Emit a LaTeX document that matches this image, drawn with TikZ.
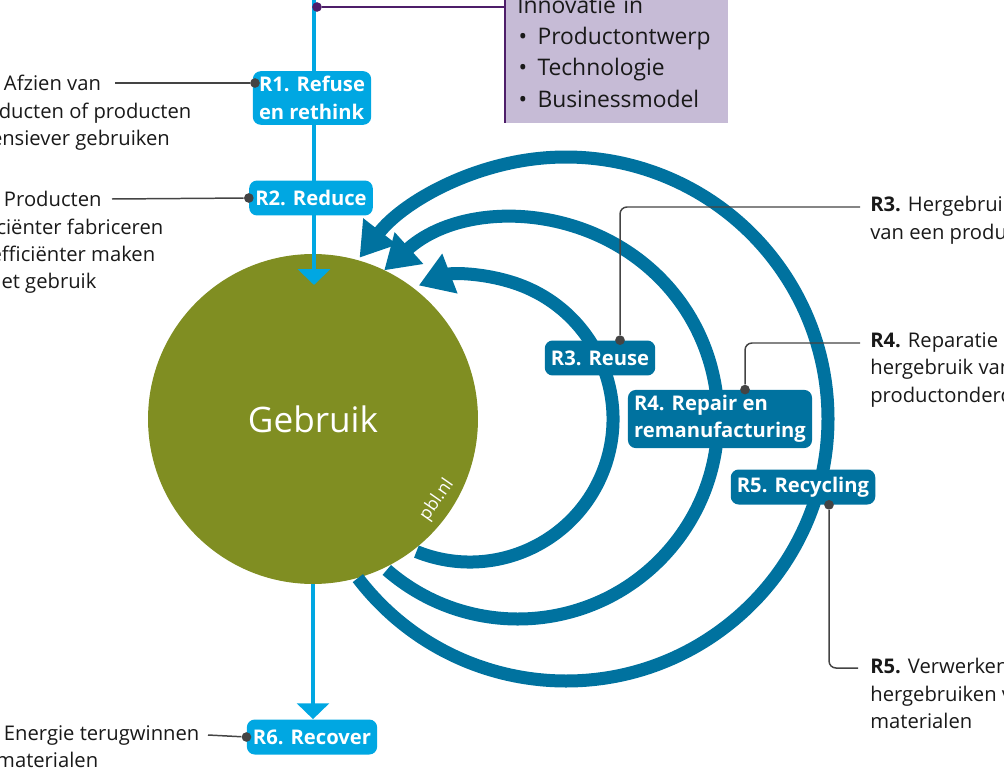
\documentclass[tikz,border=0pt]{standalone}
\usepackage{fontspec}
\setmainfont{Open Sans}
\usetikzlibrary{arrows.meta,positioning,calc}
\definecolor{pblcyan}{RGB}{0,167,226}
\definecolor{pblblue}{RGB}{0,114,159}
\definecolor{pblgreen}{RGB}{128,142,34}
\definecolor{pbllila}{RGB}{198,187,214}
\definecolor{pblpurple}{RGB}{78,30,105}
\definecolor{pbltext}{RGB}{25,25,25}
\definecolor{pblgrey}{RGB}{68,68,68}
\newcommand*\pblbullet{\makebox[11.5pt][l]{\hspace{0.8pt}\textbullet}}

\begin{document}
\begin{tikzpicture}[x=0.02cm,y=0.02cm,
    cbox/.style={fill=pblcyan,text=white,font=\bfseries\fontsize{11.5}{15.6}\selectfont,
      rounded corners=4.5pt,inner xsep=3.5pt,inner ysep=3pt,minimum height=0.7cm,align=left},
    dbox/.style={cbox,fill=pblblue},
    note/.style={text=pbltext,font=\fontsize{11.5}{15.6}\selectfont,align=left,inner sep=0pt},
    leader/.style={draw=pblgrey,line width=0.85pt,rounded corners=4pt},
    dot/.style={circle,fill=pblgrey,inner sep=0pt,minimum size=5.5pt},
    flow/.style={draw=pblcyan,line width=2.3pt,-{Triangle[length=9pt,width=18pt]}},
    ring/.style={draw=pblblue,line width=7.4pt,-{Triangle[length=19pt,width=23pt]}}]
  \useasboundingbox (0,0) rectangle (1004,-784);
  \clip (0,0) rectangle (1004,-784);

  % kern
  \node[circle,fill=pblgreen,minimum size=6.6cm,inner sep=0pt,text=white,
    font=\fontsize{20}{24}\selectfont] (gebruik) at (313,-419) {Gebruik};
  \node[rotate=55,text=white,font=\fontsize{10}{12}\selectfont] (pbl) at (437,-500) {pbl.nl};

  % cirkels R3 - R5
  \coordinate (c3) at (470,-419);
  \coordinate (c4) at (518,-419);
  \coordinate (c5) at (566,-419);
  \draw[ring] (c3) ++(-112:143) arc[start angle=-112,end angle=111,radius=143];
  \draw[ring] (c4) ++(-131:200) arc[start angle=-131,end angle=132,radius=200];
  \draw[ring] (c5) ++(-142.6:262) arc[start angle=-142.6,end angle=142,radius=262];

  % lineaire stroom
  \coordinate (bron) at (314,20);
  \coordinate (in) at (314,-285);
  \draw[flow] (bron) -- (in);
  \node[cbox] (r1) at (312,-98) {R1. Refuse\\en rethink};
  \node[cbox] (r2) at (311,-198) {R2. Reduce};
  \node[cbox] (r6) at (312,-737) {R6. Recover};
  \draw[flow] (gebruik.south) -- (gebruik.south |- r6.north);

  \node[dbox] (r3) at (600,-358) {R3. Reuse};
  \node[dbox] (r4) at (720,-419) {R4. Repair en\\remanufacturing};
  \node[dbox] (r5) at (803,-487) {R5. Recycling};

  % innovatie
  \node[fill=pbllila,anchor=south west,inner xsep=6.8pt,inner ysep=0.3cm,
    text width=3.98cm,align=left,text=pbltext,font=\fontsize{13}{17.9}\selectfont]
    (innov) at (505,-123)
    {Innovatie in\\\pblbullet Productontwerp\\\pblbullet Technologie\\\pblbullet Businessmodel};
  \draw[pblpurple,line width=0.8pt] (innov.north west) -- (innov.south west);
  \node[circle,fill=pblpurple,inner sep=0pt,minimum size=5.5pt] (pdot) at (317,-7) {};
  \draw[pblpurple,line width=0.9pt] (pdot) -- (pdot -| innov.west);

  % toelichting links
  \node[note,anchor=north west] (n1) at (-34,-75)
    {\textbf{R1.} Afzien van\\producten of producten\\intensiever gebruiken};
  \node[note,anchor=north west] (n2) at (-34,-191)
    {\textbf{R2.} Producten\\efficiënter fabriceren\\of efficiënter maken\\in het gebruik};
  \node[note,anchor=north west] (n6) at (-34,-725)
    {\textbf{R6.} Energie terugwinnen\\uit materialen};
  \coordinate (a1) at (115,-83);
  \coordinate (a2) at (112,-199);
  \coordinate (a6) at (208,-735);
  \node[dot] (d1) at (255,-83) {};
  \node[dot] (d2) at (r2.west) {};
  \node[dot] (d6) at (r6.west) {};
  \draw[leader] (a1) -- (d1);
  \draw[leader] (a2) -- (d2);
  \draw[leader] (a6) -- (d6);

  % toelichting rechts
  \node[note,anchor=north west] (n3) at (870,-196)
    {\textbf{R3.} Hergebruik\\van een product};
  \node[note,anchor=north west] (n4) at (870,-332)
    {\textbf{R4.} Reparatie en\\hergebruik van\\productonderdelen};
  \node[note,anchor=north west] (n5) at (870,-658)
    {\textbf{R5.} Verwerken en\\hergebruiken van\\materialen};
  \coordinate (a3) at (860,-207);
  \coordinate (a4) at (860,-343);
  \coordinate (a5) at (858,-668);
  \node[dot] (d3) at ($(r3.north)+(20,0)$) {};
  \node[dot] (d4) at ($(r4.north)+(25,0)$) {};
  \node[dot] (d5) at ($(r5.south)+(26,0)$) {};
  \draw[leader] (d3) |- (a3);
  \draw[leader] (d4) |- (a4);
  \draw[leader] (d5) |- (a5);
\end{tikzpicture}
\end{document}
